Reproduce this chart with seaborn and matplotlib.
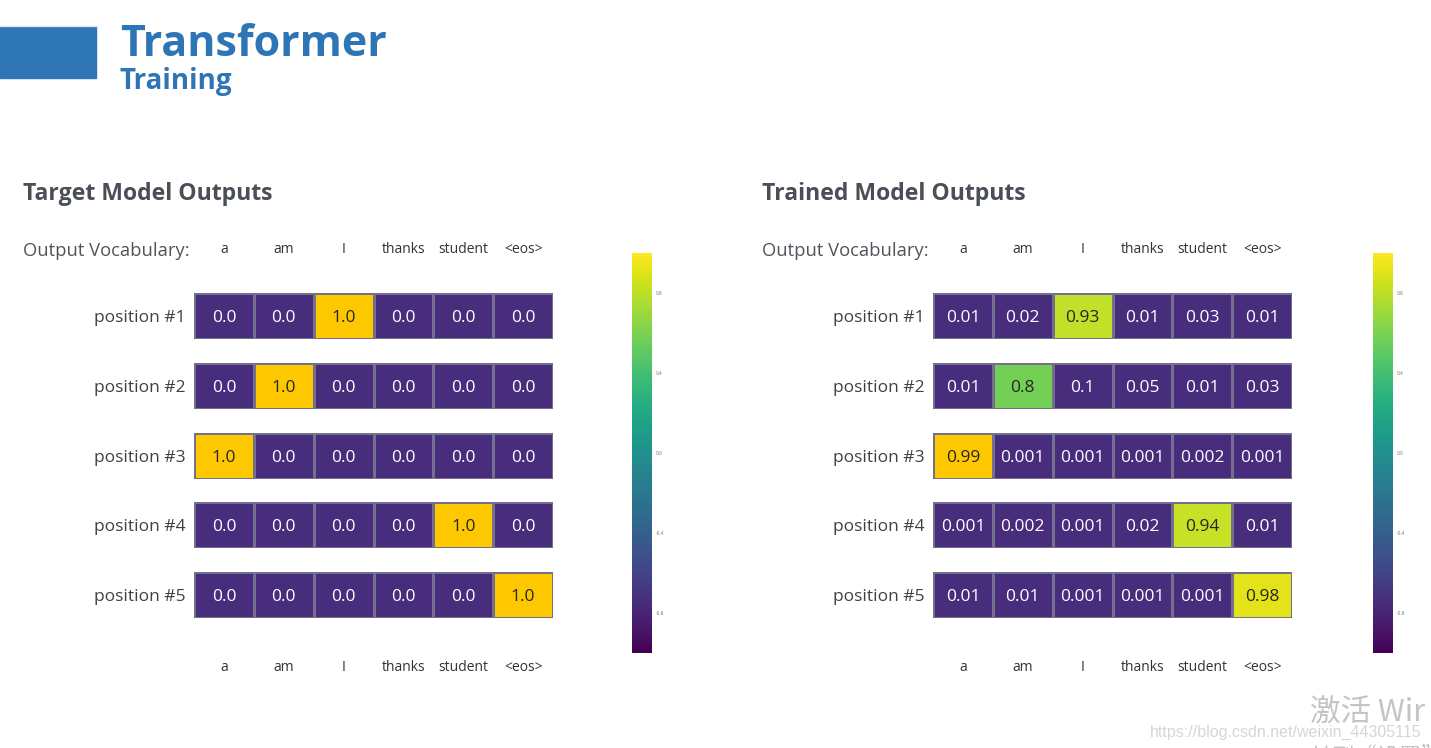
import numpy as np
import pandas as pd
import matplotlib
matplotlib.use("Agg")
import matplotlib.pyplot as plt
import seaborn as sns
from matplotlib.colors import LinearSegmentedColormap, Normalize
from matplotlib.cm import ScalarMappable

# Data
vocab = ["a", "am", "I", "thanks", "student", "<eos>"]
positions = ["position #1", "position #2", "position #3", "position #4", "position #5"]

target_outputs = [
    [0.0, 0.0, 1.0, 0.0, 0.0, 0.0],
    [0.0, 1.0, 0.0, 0.0, 0.0, 0.0],
    [1.0, 0.0, 0.0, 0.0, 0.0, 0.0],
    [0.0, 0.0, 0.0, 0.0, 1.0, 0.0],
    [0.0, 0.0, 0.0, 0.0, 0.0, 1.0],
]
trained_outputs = [
    [0.01, 0.02, 0.93, 0.01, 0.03, 0.01],
    [0.01, 0.8, 0.1, 0.05, 0.01, 0.03],
    [0.99, 0.001, 0.001, 0.001, 0.002, 0.001],
    [0.001, 0.002, 0.001, 0.02, 0.94, 0.01],
    [0.01, 0.01, 0.001, 0.001, 0.001, 0.98],
]
cbar_ticks = [-0.8, -0.4, 0.0, 0.4, 0.8]

W, H = 1431, 748
sns.set_theme(style="white")
plt.rcParams['font.family'] = ['Open Sans', 'DejaVu Sans']

# colours picked from the cells of the slide
cell_cmap = LinearSegmentedColormap.from_list("cells", [
    (0.0, "#482d7c"), (0.3, "#482d7c"), (0.8, "#74d055"),
    (0.93, "#bfe02a"), (0.98, "#e2e41a"), (0.99, "#fec800"), (1.0, "#fec800")])

fig = plt.figure(figsize=(W / 100, H / 100), dpi=100)
fig.patch.set_facecolor("white")


def box(x, y, w, h):
    # pixel box (top-left origin) -> figure fraction rect
    return [x / W, 1 - (y + h) / H, w / W, h / H]


# Header
fig.patches.append(plt.Rectangle((0, 1 - 78 / H), 96 / W, 51 / H, transform=fig.transFigure,
                                 color="#2e75b6", zorder=1))
fig.lines.append(plt.Line2D([0, 97 / W], [1 - 26 / H, 1 - 26 / H], transform=fig.transFigure,
                            color="#dfe6f0", lw=1))
fig.text(120 / W, 1 - 56 / H, "Transformer", fontsize=31, fontweight="bold", color="#2e75b6")
fig.text(120 / W, 1 - 89 / H, "Training", fontsize=20, fontweight="bold", color="#2e75b6")

row_tops = [293, 363, 433, 502, 572]
panels = [
    ("Target Model Outputs", target_outputs, 23, 194, 632),
    ("Trained Model Outputs", trained_outputs, 762, 933, 1373),
]

for title, values, tx, hx, cx in panels:
    fig.text(tx / W, 1 - 200 / H, title, fontsize=16.6, fontweight="bold", color="#4a4f57")
    fig.text(tx / W, 1 - 249 / H, "Output Vocabulary:", fontsize=13.2,
             color="#4f545a", va="center_baseline")

    for i, row in enumerate(values):
        ax = fig.add_axes(box(hx, row_tops[i], 359, 46))
        df = pd.DataFrame([row], columns=vocab, index=[positions[i]])
        annot = np.array([[str(v) for v in row]])
        sns.heatmap(df, ax=ax, cmap=cell_cmap, vmin=0, vmax=1, cbar=False,
                    annot=annot, fmt="", annot_kws={"fontsize": 12.5, "va": "center_baseline"},
                    linewidths=0.8, linecolor="#736f8c",
                    xticklabels=False, yticklabels=[positions[i]])
        ax.tick_params(left=False, length=0, pad=6)
        ax.set_yticklabels([positions[i]], rotation=0, fontsize=12.5, color="#404040",
                           va="center_baseline")
        ax.set_xlabel("")
        ax.set_ylabel("")

        if i == 0:
            for j, name in enumerate(vocab):
                ax.annotate(name, (j + 0.5, 1), xycoords=("data", "axes fraction"),
                            xytext=(0, 33), textcoords="offset points", ha="center",
                            va="center_baseline", fontsize=10, color="#333333")
        if i == len(values) - 1:
            for j, name in enumerate(vocab):
                ax.annotate(name, (j + 0.5, 0), xycoords=("data", "axes fraction"),
                            xytext=(0, -34), textcoords="offset points", ha="center",
                            va="center_baseline", fontsize=10, color="#333333")

    cax = fig.add_axes(box(cx, 253, 20, 400))
    cb = fig.colorbar(ScalarMappable(norm=Normalize(-1, 1), cmap="viridis"), cax=cax,
                      ticks=cbar_ticks, format="%.1f")
    cb.outline.set_visible(False)
    cax.tick_params(length=0, labelsize=3.5, labelcolor="#777777", pad=3)

# watermark left on the screenshot
fig.text(1150 / W, 1 - 737 / H, "https://blog.csdn.net/weixin_44305115", fontsize=11.5,
         color="#d6d6d6", family=["Liberation Sans", "DejaVu Sans"])
fig.text(1310 / W, 1 - 722 / H, "激活 Wir", fontsize=22, color="#c4c4c4",
         family=["Noto Sans CJK SC", "DejaVu Sans"])
fig.text(1310 / W, 1 - 764 / H, "转到\u201c设置\u201d以", fontsize=16, color="#c4c4c4",
         family=["Noto Sans CJK SC", "DejaVu Sans"])

fig.savefig("out.png", dpi=100, facecolor="white")
